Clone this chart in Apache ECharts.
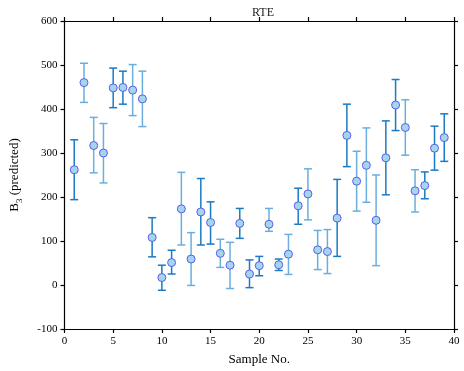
<!DOCTYPE html>
<html><head><meta charset="utf-8">
<script src="https://cdn.jsdelivr.net/npm/echarts@6/dist/echarts.min.js"></script>
<style>html,body{margin:0;padding:0;background:#fff}#c{width:464px;height:371px}</style>
</head><body><div id="c"></div>
<script>
var samples = [1,2,3,4,5,6,7,8,9,10,11,12,13,14,15,16,17,18,19,20,21,22,23,24,25,26,27,28,29,30,31,32,33,34,35,36,37,38,39];
var predicted = [262,460,317,300,448,449,443,423,108,17,51,173,59,166,142,72,45,140,25,44,138,46,70,180,207,80,76,152,340,236,272,147,289,409,358,214,226,311,335];
var upper = [330,504,381,367,493,486,501,486,153,45,79,256,119,242,189,104,97,174,57,65,174,59,115,220,264,124,126,240,411,304,357,250,373,467,421,262,257,361,389];
var lower = [194,415,255,232,403,411,385,360,64,-12,25,91,-1,91,93,40,-8,106,-6,21,122,33,24,138,148,35,26,65,269,168,188,44,205,351,295,166,196,261,281];
var barShade = [1,0,0,0,1,1,0,0,1,1,1,0,0,1,1,0,0,1,1,1,0,1,0,1,0,0,0,1,1,0,0,0,1,1,0,0,1,1,1];
var xTicks = [0,5,10,15,20,25,30,35,40];
var yTicks = [-100,0,100,200,300,400,500,600];

var FONT = 'Liberation Serif';
var chart = echarts.init(document.getElementById('c'), null, {renderer:'canvas'});
var errData = samples.map(function(s,i){ return [s, lower[i], upper[i], barShade[i]]; });
var ptData = samples.map(function(s,i){ return [s, predicted[i]]; });
var axisLineStyle = {color:'#000', width:1.2};
chart.setOption({
  animation:false,
  title:{text:'RTE', left:258, top:2, textAlign:'center', textStyle:{fontFamily:FONT, fontSize:12, fontWeight:'normal', color:'#222'}},
  grid:{left:62, right:10, top:21, bottom:42},
  xAxis:[{type:'value', min:xTicks[0], max:xTicks[xTicks.length-1], interval:5, position:'bottom',
    axisLine:{show:true, onZero:false, lineStyle:axisLineStyle}, axisTick:{show:true, length:4, lineStyle:axisLineStyle},
    axisLabel:{fontFamily:FONT, fontSize:11, color:'#000', margin:7}, splitLine:{show:false},
    name:'Sample No.', nameLocation:'middle', nameGap:24, nameTextStyle:{fontFamily:FONT, fontSize:13, color:'#000'}},
   {type:'value', min:0, max:40, interval:5, position:'top',
    axisLine:{show:true, onZero:false, lineStyle:axisLineStyle}, axisTick:{show:true, length:4, lineStyle:axisLineStyle},
    axisLabel:{show:false}, splitLine:{show:false}}],
  yAxis:[{type:'value', min:yTicks[0], max:yTicks[yTicks.length-1], interval:100, position:'left',
    axisLine:{show:true, onZero:false, lineStyle:axisLineStyle}, axisTick:{show:true, length:4, lineStyle:axisLineStyle},
    axisLabel:{fontFamily:FONT, fontSize:11, color:'#000', margin:7}, splitLine:{show:false},
    name:'{a|B}{s|3}{a| (predicted)}', nameLocation:'middle', nameGap:40, nameRotate:90,
    nameTextStyle:{fontFamily:FONT, fontSize:13, color:'#000',
      rich:{a:{fontFamily:FONT, fontSize:13, lineHeight:20, verticalAlign:'middle', color:'#000'},
            s:{fontFamily:FONT, fontSize:9, lineHeight:8, verticalAlign:'bottom', color:'#000'}}}},
   {type:'value', min:-100, max:600, interval:100, position:'right',
    axisLine:{show:true, onZero:false, lineStyle:axisLineStyle}, axisTick:{show:true, length:4, lineStyle:axisLineStyle},
    axisLabel:{show:false}, splitLine:{show:false}}],
  series:[
    {type:'custom', xAxisIndex:0, yAxisIndex:0, data:errData, z:2,
     renderItem:function(params, api){
       var x = api.value(0);
       var pLo = api.coord([x, api.value(1)]);
       var pHi = api.coord([x, api.value(2)]);
       var col = api.value(3) ? '#1a7ac4' : '#6aaedf';
       var hw = 4;
       var st = {stroke:col, lineWidth:1.5};
       return {type:'group', children:[
         {type:'line', shape:{x1:pLo[0], y1:pLo[1], x2:pHi[0], y2:pHi[1]}, style:st},
         {type:'line', shape:{x1:pLo[0]-hw, y1:pLo[1], x2:pLo[0]+hw, y2:pLo[1]}, style:st},
         {type:'line', shape:{x1:pHi[0]-hw, y1:pHi[1], x2:pHi[0]+hw, y2:pHi[1]}, style:st}
       ]};
     }},
    {type:'scatter', xAxisIndex:0, yAxisIndex:0, data:ptData, z:3, symbol:'circle', symbolSize:8,
     itemStyle:{color:'#a3d6e8', borderColor:'#5a5cf0', borderWidth:1, opacity:1}}
  ]
});
</script></body></html>
